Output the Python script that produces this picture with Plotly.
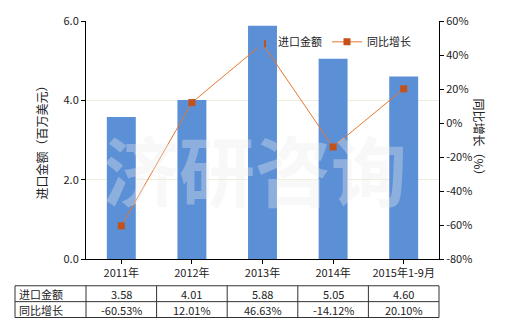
import plotly.graph_objects as go

categories = ["2011年", "2012年", "2013年", "2014年", "2015年1-9月"]
import_values = [3.58, 4.01, 5.88, 5.05, 4.60]
growth_pct = [-60.53, 12.01, 46.63, -14.12, 20.10]
import_labels = ["3.58", "4.01", "5.88", "5.05", "4.60"]
growth_labels = ["-60.53%", "12.01%", "46.63%", "-14.12%", "20.10%"]
left_ticks = [0, 2, 4, 6]
left_tick_text = ["0.0", "2.0", "4.0", "6.0"]
right_ticks = [-80, -60, -40, -20, 0, 20, 40, 60]
right_tick_text = ["-80%", "-60%", "-40%", "-20%", "0%", "20%", "40%", "60%"]

FONT = "Noto Sans CJK SC"
W, H = 520, 330
L, R, T, B = 86, 81, 19, 71
pw, ph = W - L - R, H - T - B

def px(x):
    return (x - L) / pw

def py(y):
    return (H - B - y) / ph

fig = go.Figure()
fig.add_trace(go.Bar(
    x=categories, y=import_values, name="进口金额",
    marker=dict(color="#5B8FD6", line=dict(width=0)),
    width=0.41, yaxis="y",
))
fig.add_trace(go.Scatter(
    x=categories, y=growth_pct, name="同比增长", yaxis="y2",
    mode="lines+markers",
    line=dict(color="#E8762F", width=1),
    marker=dict(symbol="square", size=7, color="#C4501A"),
))

# watermark
fig.add_annotation(text="济研咨询", x=px(255), y=py(167), xref="paper", yref="paper",
                   showarrow=False,
                   font=dict(family=FONT, size=76, weight="bold", color="rgba(235,235,235,0.35)"))

shapes = []
annotations = []
# table grid
tx0, tx1 = 15, 439
rows_y = [286, 302, 318]
col_x = [15, 86] + [86 + pw * (i + 1) / 5 for i in range(5)]
for yy in rows_y:
    shapes.append(dict(type="line", xref="paper", yref="paper", x0=px(tx0), x1=px(tx1),
                       y0=py(yy), y1=py(yy), line=dict(color="#333", width=1)))
for xx in col_x:
    shapes.append(dict(type="line", xref="paper", yref="paper", x0=px(xx), x1=px(xx),
                       y0=py(rows_y[0]), y1=py(rows_y[-1]), line=dict(color="#333", width=1)))
row_names = ["进口金额", "同比增长"]
row_vals = [import_labels, growth_labels]
for r in range(2):
    yc = (rows_y[r] + rows_y[r + 1]) / 2
    annotations.append(dict(text=row_names[r], x=px(17), y=py(yc), xref="paper", yref="paper",
                            xanchor="left", yanchor="middle", showarrow=False,
                            font=dict(family=FONT, size=11, color="#222")))
    for i, v in enumerate(row_vals[r]):
        xc = (col_x[i + 1] + col_x[i + 2]) / 2
        annotations.append(dict(text=v, x=px(xc), y=py(yc), xref="paper", yref="paper",
                                xanchor="center", yanchor="middle", showarrow=False,
                                font=dict(family=FONT, size=11, color="#222")))
# axis titles
annotations.append(dict(text="进口金额（百万美元）", x=px(30), y=py(139), xref="paper", yref="paper",
                        textangle=-90, showarrow=False, font=dict(family=FONT, size=12, color="#222")))
annotations.append(dict(text="同比增长（%）", x=px(490), y=py(139), xref="paper", yref="paper",
                        textangle=90, showarrow=False, font=dict(family=FONT, size=12, color="#222")))
for a in annotations:
    fig.add_annotation(**a)

fig.update_layout(
    width=W, height=H,
    margin=dict(l=L, r=R, t=T, b=B),
    paper_bgcolor="white", plot_bgcolor="white",
    font=dict(family=FONT, size=11, color="#222"),
    shapes=shapes,
    bargap=0.59,
    xaxis=dict(showline=True, linecolor="#000", linewidth=1, ticks="outside", ticklen=4,
               tickcolor="#000", tickfont=dict(size=11), range=[-0.5, 4.5]),
    yaxis=dict(range=[0, 6], tickvals=left_ticks, ticktext=left_tick_text, showline=True,
               linecolor="#000", ticks="outside", ticklen=4, tickcolor="#000",
               showgrid=True, gridcolor="#EEEEDD", gridwidth=1, zeroline=False),
    yaxis2=dict(range=[-80, 60], tickvals=right_ticks, ticktext=right_tick_text, overlaying="y",
                side="right", showline=True, linecolor="#000", ticks="outside", ticklen=4,
                tickcolor="#000", showgrid=False, zeroline=False),
    legend=dict(orientation="h", x=px(238), y=py(40), xanchor="left", yanchor="middle",
                bgcolor="rgba(0,0,0,0)", font=dict(size=11), tracegroupgap=0),
)
fig.write_html("out.html")
